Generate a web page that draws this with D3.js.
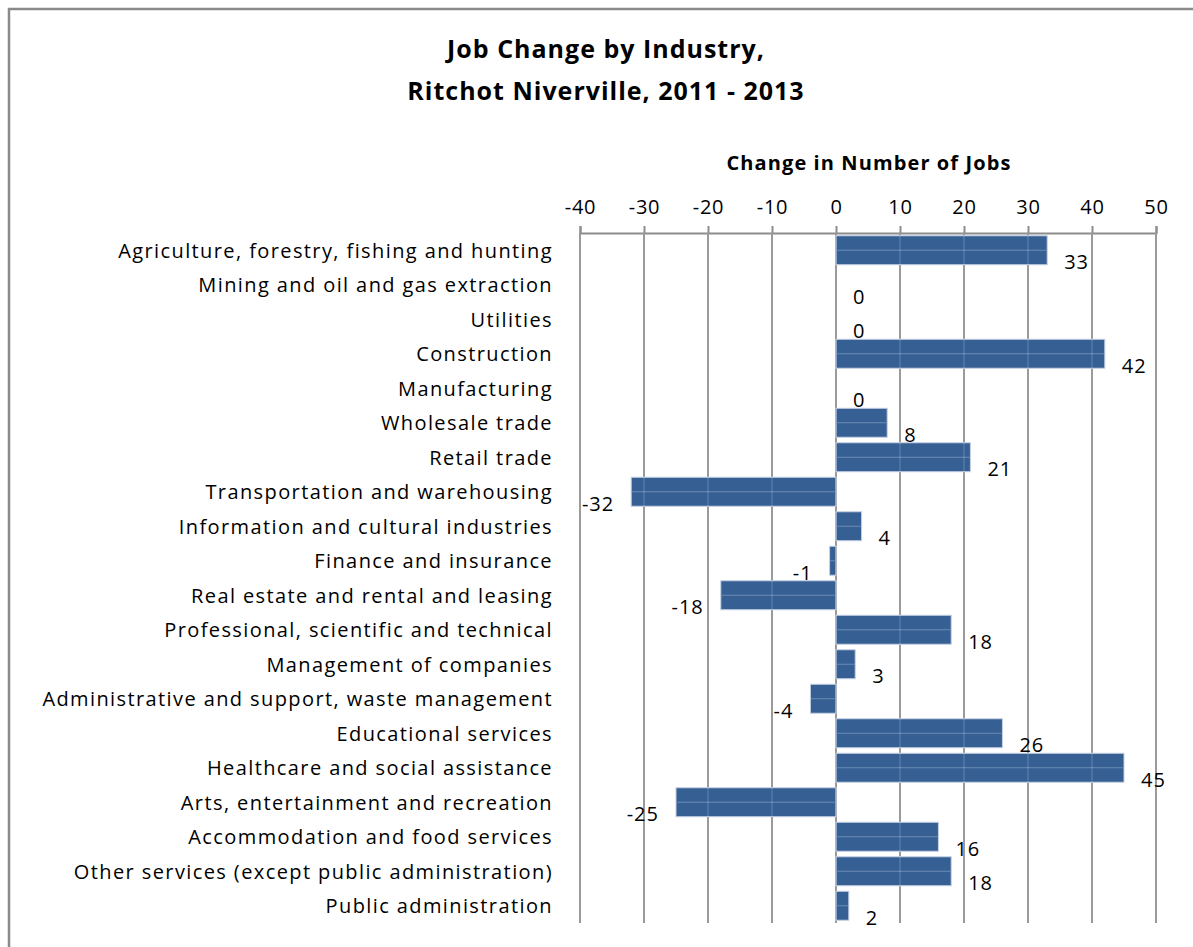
<!DOCTYPE html>
<html>
<head>
<meta charset="utf-8">
<script src="https://cdn.jsdelivr.net/npm/d3@7"></script>
<style>
  html, body { margin: 0; padding: 0; background: #fff; }
  svg { display: block; font-family: "Open Sans", Lato, sans-serif; }
</style>
</head>
<body>
<svg id="chart" width="1193" height="947"></svg>
<script>
// Industries, top to bottom
const industries = [
  "Agriculture, forestry, fishing and hunting",
  "Mining and oil and gas extraction",
  "Utilities",
  "Construction",
  "Manufacturing",
  "Wholesale trade",
  "Retail trade",
  "Transportation and warehousing",
  "Information and cultural industries",
  "Finance and insurance",
  "Real estate and rental and leasing",
  "Professional, scientific and technical",
  "Management of companies",
  "Administrative and support, waste management",
  "Educational services",
  "Healthcare and social assistance",
  "Arts, entertainment and recreation",
  "Accommodation and food services",
  "Other services (except public administration)",
  "Public administration"
];

// Change in number of jobs, 2011 - 2013
const jobChange = [33, 0, 0, 42, 0, 8, 21, -32, 4, -1, -18, 18, 3, -4, 26, 45, -25, 16, 18, 2];

const tickValues = [-40, -30, -20, -10, 0, 10, 20, 30, 40, 50];

const titleLines = ["Job Change by Industry,", "Ritchot Niverville, 2011 - 2013"];
const axisTitle = "Change in Number of Jobs";

const data = industries.map((name, i) => ({ name, value: jobChange[i] }));

const svg = d3.select("#chart");

// Chart frame
svg.append("rect")
  .attr("x", 9).attr("y", 9)
  .attr("width", 1200).attr("height", 960)
  .attr("fill", "#fff")
  .attr("stroke", "#8a8a8a")
  .attr("stroke-width", 2.5);

const plot = { left: 580, right: 1156, top: 233, bottom: 923 };

const x = d3.scaleLinear().domain([-40, 50]).range([plot.left, plot.right]);
const y = d3.scaleBand()
  .domain(industries)
  .range([plot.top, plot.bottom])
  .paddingInner(0.16)
  .paddingOuter(0.08);

// Title
svg.append("g").selectAll("text")
  .data(titleLines)
  .join("text")
  .attr("x", 606)
  .attr("y", (d, i) => 48 + i * 42)
  .attr("text-anchor", "middle")
  .attr("dominant-baseline", "central")
  .attr("font-size", 25)
  .attr("font-weight", "bold")
  .attr("letter-spacing", 1.0)
  .attr("fill", "#000")
  .text(d => d);

// Axis title
svg.append("text")
  .attr("x", (plot.left + plot.right) / 2 + 1)
  .attr("y", 162)
  .attr("text-anchor", "middle")
  .attr("dominant-baseline", "central")
  .attr("font-size", 20)
  .attr("font-weight", "bold")
  .attr("letter-spacing", 1.1)
  .text(axisTitle);

// Top axis with ticks crossing the axis line
const axis = d3.axisTop(x)
  .tickValues(tickValues)
  .tickSize(7)
  .tickPadding(12)
  .tickFormat(d => String(d));

const gAxis = svg.append("g")
  .attr("transform", `translate(0,${plot.top})`)
  .call(axis);
gAxis.select(".domain").attr("stroke", "#8c8c8c").attr("stroke-width", 2);
gAxis.selectAll(".tick line").attr("stroke", "#8c8c8c").attr("stroke-width", 2);
gAxis.selectAll(".tick text")
  .attr("font-family", "'Open Sans', Lato, sans-serif")
  .attr("font-size", 20)
  .attr("letter-spacing", 0.8)
  .attr("fill", "#000");

// Vertical gridlines
svg.append("g").selectAll("line")
  .data(tickValues)
  .join("line")
  .attr("x1", d => x(d)).attr("x2", d => x(d))
  .attr("y1", plot.top).attr("y2", plot.bottom)
  .attr("stroke", "#8c8c8c")
  .attr("stroke-width", 2);

// Bars
const bars = svg.append("g");
bars.selectAll("rect")
  .data(data.filter(d => d.value !== 0))
  .join("rect")
  .attr("x", d => x(Math.min(0, d.value)))
  .attr("y", d => y(d.name))
  .attr("width", d => Math.abs(x(d.value) - x(0)))
  .attr("height", y.bandwidth())
  .attr("fill", "#365f93")
  .attr("stroke", "#c4d1e3")
  .attr("stroke-width", 1);

// Light centre line on each bar
bars.selectAll("line")
  .data(data.filter(d => d.value !== 0))
  .join("line")
  .attr("x1", d => x(Math.min(0, d.value)) + 0.5)
  .attr("x2", d => x(Math.max(0, d.value)) - 0.5)
  .attr("y1", d => y(d.name) + y.bandwidth() / 2)
  .attr("y2", d => y(d.name) + y.bandwidth() / 2)
  .attr("stroke", "#6d8cb5")
  .attr("stroke-width", 1);

// Faint gridline traces across the bars
svg.append("g").selectAll("line")
  .data(tickValues)
  .join("line")
  .attr("x1", d => x(d)).attr("x2", d => x(d))
  .attr("y1", plot.top).attr("y2", plot.bottom)
  .attr("stroke", "#ffffff")
  .attr("stroke-opacity", 0.12)
  .attr("stroke-width", 2);

// Category labels
svg.append("g").selectAll("text")
  .data(data)
  .join("text")
  .attr("x", 553)
  .attr("y", d => y(d.name) + y.bandwidth() / 2)
  .attr("text-anchor", "end")
  .attr("dominant-baseline", "central")
  .attr("font-size", 20)
  .attr("letter-spacing", 1.4)
  .attr("fill", "#000")
  .text(d => d.name);

// Value labels
svg.append("g").selectAll("text")
  .data(data)
  .join("text")
  .attr("x", d => d.value < 0 ? x(d.value) - 17 : x(d.value) + 17)
  .attr("y", d => y(d.name) + y.bandwidth() / 2 + 11.5)
  .attr("text-anchor", d => d.value < 0 ? "end" : "start")
  .attr("dominant-baseline", "central")
  .attr("font-size", 20)
  .attr("letter-spacing", 1)
  .attr("fill", "#000")
  .text(d => d.value);
</script>
</body>
</html>
